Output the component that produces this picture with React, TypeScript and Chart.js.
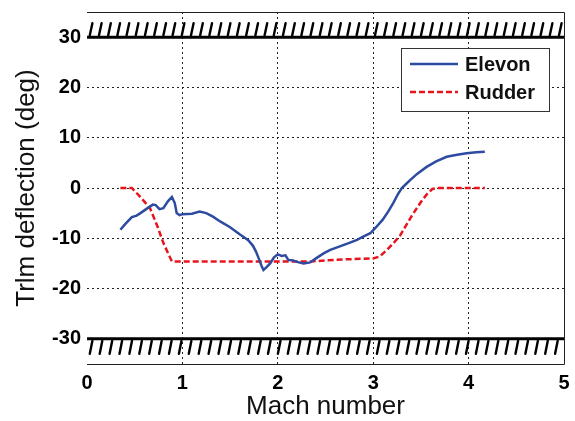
import React, { useEffect, useRef } from "react";
import { Chart, registerables } from "chart.js";

Chart.register(...registerables);

const elevonMach = [0.35, 0.4, 0.45, 0.47, 0.52, 0.56, 0.62, 0.69, 0.72, 0.76, 0.8, 0.85, 0.89, 0.92, 0.94, 0.97, 1.0, 1.1, 1.18, 1.25, 1.32, 1.4, 1.5, 1.6, 1.69, 1.74, 1.77, 1.8, 1.83, 1.85, 1.88, 1.92, 1.96, 2.0, 2.04, 2.08, 2.11, 2.16, 2.2, 2.27, 2.34, 2.4, 2.48, 2.55, 2.65, 2.75, 2.83, 2.9, 2.97, 3.03, 3.1, 3.16, 3.21, 3.26, 3.3, 3.35, 3.39, 3.46, 3.56, 3.66, 3.77, 3.88, 3.98, 4.08, 4.17];
const elevonDeg = [-8.3, -7.2, -6.2, -5.8, -5.5, -5.0, -4.2, -3.3, -3.4, -4.2, -4.0, -2.6, -1.8, -3.0, -5.0, -5.4, -5.2, -5.1, -4.7, -5.0, -5.7, -6.7, -7.8, -9.2, -10.4, -11.5, -12.6, -14.0, -15.5, -16.3, -15.8, -15.0, -13.8, -13.2, -13.5, -13.4, -14.3, -14.4, -14.7, -15.0, -14.8, -14.0, -13.0, -12.3, -11.6, -10.9, -10.3, -9.6, -9.0, -7.8, -6.3, -4.6, -3.0, -1.2, 0.0, 0.9, 1.6, 2.8, 4.2, 5.3, 6.2, 6.6, 6.9, 7.1, 7.2];

const rudderMach = [0.35, 0.47, 0.56, 0.66, 0.74, 0.8, 0.85, 0.89, 1.5, 2.0, 2.35, 2.5, 2.7, 3.0, 3.07, 3.15, 3.22, 3.28, 3.34, 3.39, 3.44, 3.5, 3.56, 3.62, 3.67, 4.17];
const rudderDeg = [0, 0, -1.8, -4.0, -7.7, -10.9, -13.0, -14.6, -14.6, -14.6, -14.6, -14.4, -14.2, -14.0, -13.6, -12.2, -10.8, -9.5, -7.6, -6.0, -4.5, -2.8, -1.3, -0.2, 0, 0];

const yTicks = [-30, -20, -10, 0, 10, 20, 30];
const xTicks = [0, 1, 2, 3, 4, 5];
const seriesLabels = ["Elevon", "Rudder"];
const limitDeg = 30;

const FONT = 'Arial, "Liberation Sans", sans-serif';
const BLUE = "#2d4ba0";
const RED = "#e8141c";

const framePlugin = {
  id: "frame",
  beforeDatasetsDraw(chart: any) {
    const { ctx, chartArea: a, scales } = chart;
    const y = scales.y;
    ctx.save();
    ctx.strokeStyle = "#222";
    ctx.lineWidth = 1;
    ctx.beginPath();
    ctx.moveTo(a.left, a.top + 0.5);
    ctx.lineTo(a.right + 0.5, a.top + 0.5);
    ctx.lineTo(a.right + 0.5, a.bottom + 0.5);
    ctx.lineTo(a.left, a.bottom + 0.5);
    ctx.stroke();
    const yTop = y.getPixelForValue(limitDeg);
    const yBot = y.getPixelForValue(-limitDeg);
    ctx.strokeStyle = "#000";
    ctx.lineWidth = 3;
    ctx.beginPath();
    ctx.moveTo(a.left, yTop);
    ctx.lineTo(a.right, yTop);
    ctx.moveTo(a.left, yBot);
    ctx.lineTo(a.right, yBot);
    ctx.stroke();
    ctx.lineWidth = 2.4;
    ctx.lineCap = "round";
    ctx.beginPath();
    for (let x = a.left + 4; x < a.right - 3; x += 9.2) {
      ctx.moveTo(x - 1.2, yTop - 2);
      ctx.lineTo(x + 1.4, yTop - 14);
    }
    for (let x = a.left + 4; x < a.right - 3; x += 9.9) {
      ctx.moveTo(x + 1.4, yBot + 2);
      ctx.lineTo(x - 1.2, yBot + 15);
    }
    ctx.stroke();
    ctx.restore();
  },
  afterDatasetsDraw(chart: any) {
    const { ctx } = chart;
    const bx = 401, by = 48, bw = 148, bh = 63;
    ctx.save();
    ctx.fillStyle = "#fff";
    ctx.fillRect(bx, by, bw, bh);
    ctx.strokeStyle = "#333";
    ctx.lineWidth = 1;
    ctx.strokeRect(bx + 0.5, by + 0.5, bw, bh);
    chart.data.datasets.forEach((ds: any, i: number) => {
      const ly = by + 16 + i * 28;
      ctx.strokeStyle = ds.borderColor;
      ctx.lineWidth = 2.5;
      ctx.setLineDash(ds.borderDash || []);
      ctx.beginPath();
      ctx.moveTo(bx + 9, ly);
      ctx.lineTo(bx + 57, ly);
      ctx.stroke();
      ctx.setLineDash([]);
      ctx.fillStyle = "#111";
      ctx.font = `bold 20px ${FONT}`;
      ctx.textBaseline = "middle";
      ctx.textAlign = "left";
      ctx.fillText(ds.label, bx + 64, ly + 1);
    });
    ctx.restore();
  },
};

export default function App() {
  const ref = useRef<HTMLCanvasElement>(null);
  useEffect(() => {
    if (!ref.current) return;
    const chart = new Chart(ref.current, {
      type: "line",
      data: {
        datasets: [
          {
            label: seriesLabels[0],
            data: elevonMach.map((m, i) => ({ x: m, y: elevonDeg[i] })),
            borderColor: BLUE,
            borderWidth: 2.5,
            pointRadius: 0,
            tension: 0,
            fill: false,
          },
          {
            label: seriesLabels[1],
            data: rudderMach.map((m, i) => ({ x: m, y: rudderDeg[i] })),
            borderColor: RED,
            borderWidth: 2.5,
            borderDash: [6, 3],
            pointRadius: 0,
            tension: 0,
            fill: false,
          },
        ],
      },
      options: {
        responsive: false,
        animation: false,
        layout: { padding: { top: 12, right: 11, left: 0, bottom: 0 } },
        plugins: { legend: { display: false }, tooltip: { enabled: false } },
        scales: {
          x: {
            type: "linear",
            min: 0,
            max: 5,
            afterBuildTicks: (s: any) => {
              s.ticks = xTicks.map((v) => ({ value: v }));
            },
            afterFit: (s: any) => {
              s.height = 57;
              s.paddingLeft = 0;
              s.paddingRight = 0;
            },
            border: { display: false, dash: [2, 3] },
            grid: {
              drawTicks: false,
              color: (c: any) => (c.tick && (c.tick.value === 0 || c.tick.value === 5) ? "rgba(0,0,0,0)" : "#222"),
              lineWidth: 1,
            },
            ticks: {
              padding: 7,
              color: "#000",
              font: { family: FONT, size: 20, weight: "bold" },
            },
            title: {
              display: true,
              text: "Mach number",
              color: "#111",
              font: { family: FONT, size: 26, lineHeight: 1 },
              padding: { top: 0, bottom: 1 },
            },
          },
          y: {
            type: "linear",
            min: -35,
            max: 35,
            afterBuildTicks: (s: any) => {
              s.ticks = yTicks.map((v) => ({ value: v }));
            },
            afterFit: (s: any) => {
              s.width = 87;
              s.paddingTop = 0;
              s.paddingBottom = 0;
            },
            border: { display: false, dash: [2, 3] },
            grid: {
              drawTicks: false,
              color: (c: any) => (c.tick && Math.abs(c.tick.value) === 30 ? "rgba(0,0,0,0)" : "#222"),
              lineWidth: 1,
            },
            ticks: {
              padding: 6,
              color: "#000",
              font: { family: FONT, size: 20, weight: "bold" },
            },
            title: {
              display: true,
              text: "Trlm deflection (deg)",
              color: "#111",
              font: { family: FONT, size: 26, lineHeight: 1 },
              padding: { top: 14, bottom: 0 },
            },
          },
        },
      },
      plugins: [framePlugin],
    } as any);
    return () => chart.destroy();
  }, []);
  return (
    <div style={{ position: "absolute", left: 0, top: 0, width: 575, height: 421, background: "#fff" }}>
      <canvas ref={ref} width={575} height={421} />
    </div>
  );
}
